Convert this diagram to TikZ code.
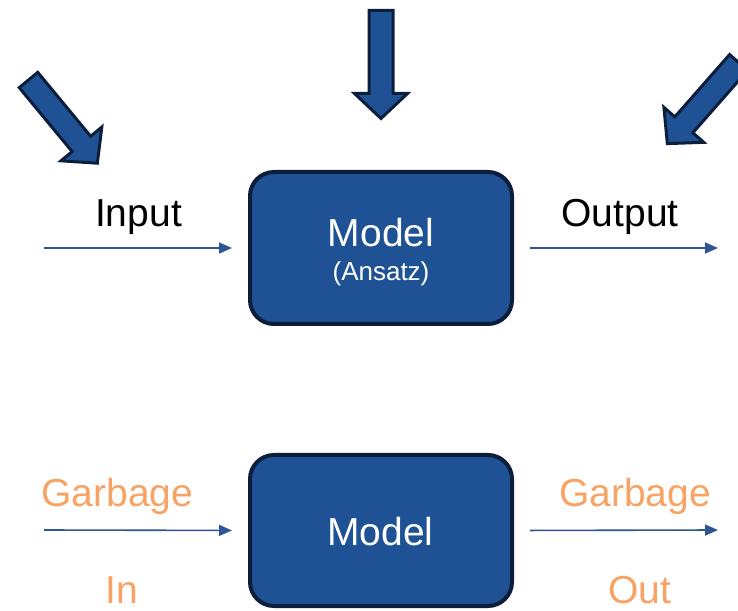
\documentclass[tikz,border=0pt]{standalone}
\usepackage{fontspec}
\setmainfont{Liberation Sans}
\usetikzlibrary{arrows.meta}
\definecolor{boxblue}{RGB}{31,82,148}
\definecolor{edgenavy}{RGB}{12,30,58}
\definecolor{flowblue}{RGB}{47,85,151}
\definecolor{garbage}{RGB}{248,163,100}
\tikzset{
  blockarrow/.pic={
    \filldraw[fill=boxblue, draw=edgenavy, line width=3pt, line join=miter]
      (0,-12) -- (83,-12) -- (83,-26.5) -- (108,0) -- (83,26.5) -- (83,12) -- (0,12) -- cycle;
  }
}
\begin{document}
\begin{tikzpicture}[x=1pt, y=1pt,
  modelbox/.style={draw=edgenavy, fill=boxblue, line width=4pt, rounded corners=24pt,
    minimum width=262pt, inner sep=0pt},
  flow/.style={draw=flowblue, line width=1.6pt, -{Triangle[length=13pt, width=11pt]}},
  big/.style={font=\fontsize{39}{47}\selectfont, anchor=base, inner sep=0pt},
  small/.style={font=\fontsize{26}{31}\selectfont, anchor=base, inner sep=0pt}
]
\useasboundingbox (0,0) rectangle (738,610);
\clip (0,0) rectangle (738,610);

% three block arrows pointing at the upper model
\pic[rotate=-90]    at (381,599.5) {blockarrow};
\pic[rotate=-50.4]  at (28.5,530)  {blockarrow};
\pic[rotate=-131.3] at (738.6,547.5) {blockarrow};

% upper model with input and output
\node[modelbox, minimum height=152pt] (m1) at (381,362) {};
\node[big, text=white]   (m1t) at (381,363) {Model};
\node[small, text=white] (m1s) at (381,329) {(Ansatz)};
\node[big] (inp) at (138.5,383) {Input};
\node[big] (outp) at (620,383) {Output};
\coordinate (inL)  at (44,362);
\coordinate (outR) at (718,362);
\draw[flow, shorten >=16pt] (inL) -- (m1.west);
\draw[flow, shorten <=16pt] (m1.east) -- (outR);

% lower model: garbage in, garbage out
\node[modelbox, minimum height=151pt] (m2) at (381,79.5) {};
\node[big, text=white] (m2t) at (380.5,65) {Model};
\node[big, text=garbage] (gin)  at (117.5,103) {Garbage};
\node[big, text=garbage] (gout) at (635,103)   {Garbage};
\node[big, text=garbage] (win)  at (122,7)     {In};
\node[big, text=garbage] (wout) at (640,7)     {Out};
\coordinate (gL) at (44,80);
\coordinate (gR) at (718,80);
\draw[flow, shorten >=16pt] (gL) -- (m2.west);
\draw[flow, shorten <=16pt] (m2.east) -- (gR);
\end{tikzpicture}
\end{document}
